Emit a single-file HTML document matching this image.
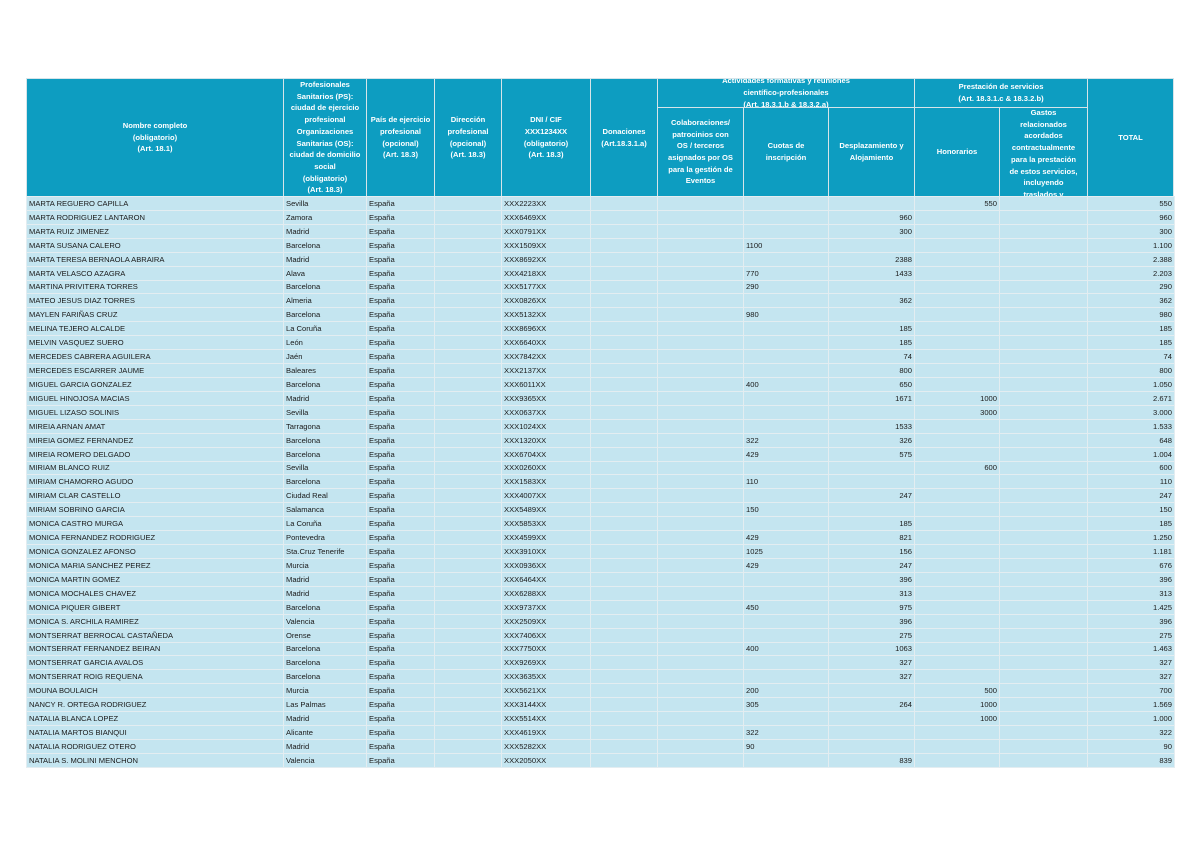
<!DOCTYPE html>
<html><head><meta charset="utf-8">
<style>
body{margin:0;width:1200px;height:848px;background:#fff;position:relative;overflow:hidden;font-family:"Liberation Sans",Arial,sans-serif;}
.h{position:absolute;background:#0d9dc1;color:#fff;font-weight:bold;font-size:7.6px;line-height:11.7px;text-align:center;display:flex;align-items:center;justify-content:center;overflow:hidden;box-sizing:border-box;border:1px solid #d6e4e9;padding:0 5px;}
.h div{width:100%;}
table{position:absolute;left:26px;top:196px;border-collapse:collapse;table-layout:fixed;width:1148px;}
td{background:#c4e5f0;border:1px solid #e3edf1;height:12.93px;padding:0 2px;font-size:7.6px;line-height:11px;color:#1a1a1a;white-space:nowrap;overflow:hidden;}
td.r{text-align:right;}
</style></head><body>
<div class="h" style="left:26px;top:78px;width:258px;height:119px"><div>Nombre completo<br>(obligatorio)<br>(Art. 18.1)</div></div>
<div class="h" style="left:283px;top:78px;width:84px;height:119px"><div>Profesionales<br>Sanitarios (PS):<br>ciudad de ejercicio<br>profesional<br>Organizaciones<br>Sanitarias (OS):<br>ciudad de domicilio<br>social<br>(obligatorio)<br>(Art. 18.3)</div></div>
<div class="h" style="left:366px;top:78px;width:69px;height:119px;padding:0"><div style="white-space:nowrap">País de ejercicio<br>profesional<br>(opcional)<br>(Art. 18.3)</div></div>
<div class="h" style="left:434px;top:78px;width:68px;height:119px"><div>Dirección<br>profesional<br>(opcional)<br>(Art. 18.3)</div></div>
<div class="h" style="left:501px;top:78px;width:90px;height:119px"><div>DNI / CIF<br>XXX1234XX<br>(obligatorio)<br>(Art. 18.3)</div></div>
<div class="h" style="left:590px;top:78px;width:68px;height:119px"><div>Donaciones<br>(Art.18.3.1.a)</div></div>
<div class="h" style="left:657px;top:78px;width:258px;height:30px"><div>Actividades formativas y reuniones<br>científico-profesionales<br>(Art. 18.3.1.b &amp; 18.3.2.a)</div></div>
<div class="h" style="left:914px;top:78px;width:174px;height:30px"><div>Prestación de servicios<br>(Art. 18.3.1.c &amp; 18.3.2.b)</div></div>
<div class="h" style="left:657px;top:107px;width:87px;height:90px"><div>Colaboraciones/<br>patrocinios con<br>OS / terceros<br>asignados por OS<br>para la gestión de<br>Eventos</div></div>
<div class="h" style="left:743px;top:107px;width:86px;height:90px"><div>Cuotas de<br>inscripción</div></div>
<div class="h" style="left:828px;top:107px;width:87px;height:90px"><div>Desplazamiento y<br>Alojamiento</div></div>
<div class="h" style="left:914px;top:107px;width:86px;height:90px"><div>Honorarios</div></div>
<div class="h" style="left:999px;top:107px;width:89px;height:90px;align-items:flex-start"><div style="margin-top:-1px">Gastos<br>relacionados<br>acordados<br>contractualmente<br>para la prestación<br>de estos servicios,<br>incluyendo<br>traslados y<br>alojamiento</div></div>
<div class="h" style="left:1087px;top:78px;width:87px;height:119px"><div>TOTAL</div></div>
<table>
<colgroup><col style="width:257px"><col style="width:83px"><col style="width:68px"><col style="width:67px"><col style="width:89px"><col style="width:67px"><col style="width:86px"><col style="width:85px"><col style="width:86px"><col style="width:85px"><col style="width:88px"><col style="width:87px"></colgroup>
<tbody id="tb"></tbody>
</table>
<script>
var d=[
["MARTA REGUERO CAPILLA","Sevilla","XXX2223XX","","","","550","550"],
["MARTA RODRIGUEZ LANTARON","Zamora","XXX6469XX","","","960","","960"],
["MARTA RUIZ JIMENEZ","Madrid","XXX0791XX","","","300","","300"],
["MARTA SUSANA CALERO","Barcelona","XXX1509XX","","1100","","","1.100"],
["MARTA TERESA BERNAOLA ABRAIRA","Madrid","XXX8692XX","","","2388","","2.388"],
["MARTA VELASCO AZAGRA","Alava","XXX4218XX","","770","1433","","2.203"],
["MARTINA PRIVITERA TORRES","Barcelona","XXX5177XX","","290","","","290"],
["MATEO JESUS DIAZ TORRES","Almeria","XXX0826XX","","","362","","362"],
["MAYLEN FARIÑAS CRUZ","Barcelona","XXX5132XX","","980","","","980"],
["MELINA TEJERO ALCALDE","La Coruña","XXX8696XX","","","185","","185"],
["MELVIN VASQUEZ SUERO","León","XXX6640XX","","","185","","185"],
["MERCEDES CABRERA AGUILERA","Jaén","XXX7842XX","","","74","","74"],
["MERCEDES ESCARRER JAUME","Baleares","XXX2137XX","","","800","","800"],
["MIGUEL GARCIA GONZALEZ","Barcelona","XXX6011XX","","400","650","","1.050"],
["MIGUEL HINOJOSA MACIAS","Madrid","XXX9365XX","","","1671","1000","2.671"],
["MIGUEL LIZASO SOLINIS","Sevilla","XXX0637XX","","","","3000","3.000"],
["MIREIA ARNAN AMAT","Tarragona","XXX1024XX","","","1533","","1.533"],
["MIREIA GOMEZ FERNANDEZ","Barcelona","XXX1320XX","","322","326","","648"],
["MIREIA ROMERO DELGADO","Barcelona","XXX6704XX","","429","575","","1.004"],
["MIRIAM BLANCO RUIZ","Sevilla","XXX0260XX","","","","600","600"],
["MIRIAM CHAMORRO AGUDO","Barcelona","XXX1583XX","","110","","","110"],
["MIRIAM CLAR CASTELLO","Ciudad Real","XXX4007XX","","","247","","247"],
["MIRIAM SOBRINO GARCIA","Salamanca","XXX5489XX","","150","","","150"],
["MONICA CASTRO MURGA","La Coruña","XXX5853XX","","","185","","185"],
["MONICA FERNANDEZ RODRIGUEZ","Pontevedra","XXX4599XX","","429","821","","1.250"],
["MONICA GONZALEZ AFONSO","Sta.Cruz Tenerife","XXX3910XX","","1025","156","","1.181"],
["MONICA MARIA SANCHEZ PEREZ","Murcia","XXX0936XX","","429","247","","676"],
["MONICA MARTIN GOMEZ","Madrid","XXX6464XX","","","396","","396"],
["MONICA MOCHALES CHAVEZ","Madrid","XXX6288XX","","","313","","313"],
["MONICA PIQUER GIBERT","Barcelona","XXX9737XX","","450","975","","1.425"],
["MONICA S. ARCHILA RAMIREZ","Valencia","XXX2509XX","","","396","","396"],
["MONTSERRAT BERROCAL CASTAÑEDA","Orense","XXX7406XX","","","275","","275"],
["MONTSERRAT FERNANDEZ BEIRAN","Barcelona","XXX7750XX","","400","1063","","1.463"],
["MONTSERRAT GARCIA AVALOS","Barcelona","XXX9269XX","","","327","","327"],
["MONTSERRAT ROIG REQUENA","Barcelona","XXX3635XX","","","327","","327"],
["MOUNA BOULAICH","Murcia","XXX5621XX","","200","","500","700"],
["NANCY R. ORTEGA RODRIGUEZ","Las Palmas","XXX3144XX","","305","264","1000","1.569"],
["NATALIA BLANCA LOPEZ","Madrid","XXX5514XX","","","","1000","1.000"],
["NATALIA MARTOS BIANQUI","Alicante","XXX4619XX","","322","","","322"],
["NATALIA RODRIGUEZ OTERO","Madrid","XXX5282XX","","90","","","90"],
["NATALIA S. MOLINI MENCHON","Valencia","XXX2050XX","","","839","","839"]];
var h="";
d.forEach(function(r){
h+="<tr><td>"+r[0]+"</td><td>"+r[1]+"</td><td>España</td><td></td><td>"+r[2]+"</td><td></td><td>"+r[3]+"</td><td>"+r[4]+"</td><td class='r'>"+r[5]+"</td><td class='r'>"+r[6]+"</td><td></td><td class='r'>"+r[7]+"</td></tr>";
});
document.getElementById("tb").innerHTML=h;
</script>
</body></html>
